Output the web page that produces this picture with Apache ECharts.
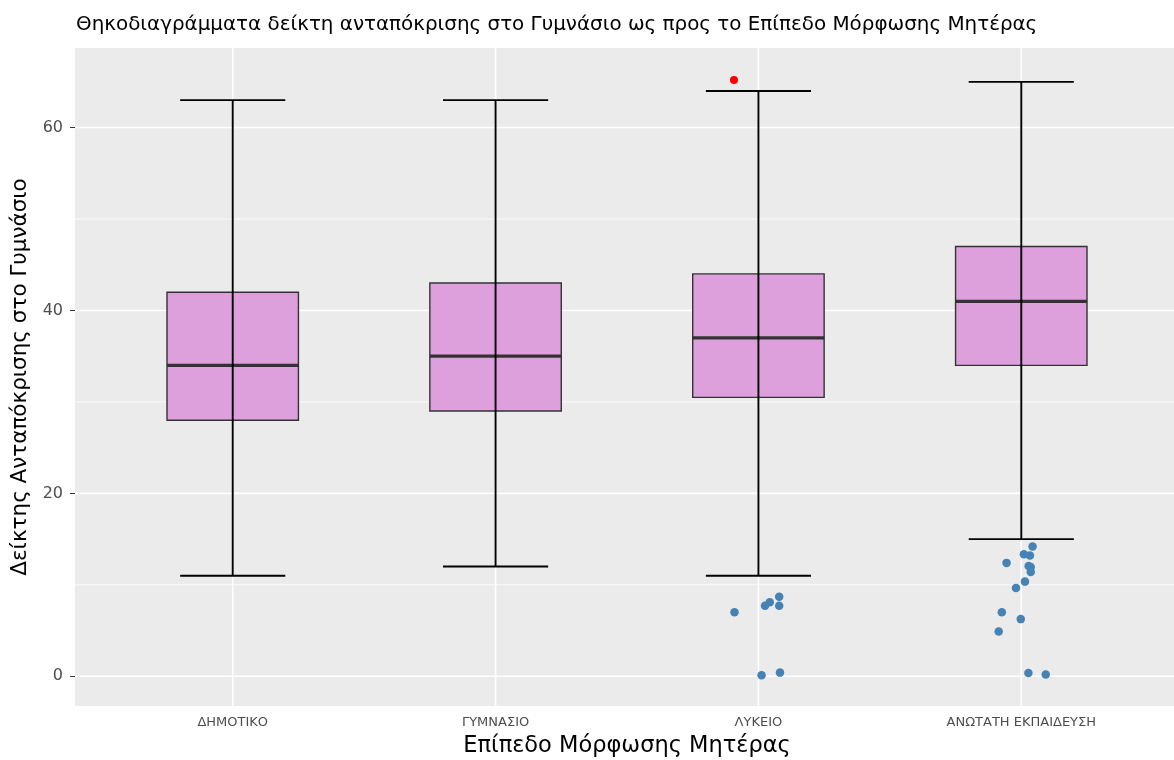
<!DOCTYPE html>
<html>
<head>
<meta charset="utf-8">
<script src="https://cdn.jsdelivr.net/npm/echarts@6/dist/echarts.min.js"></script>
<style>
  html, body { margin: 0; padding: 0; background: #fff; }
  #main { width: 1174px; height: 760px; }
</style>
</head>
<body>
<div id="main"></div>
<script>
var dom = document.getElementById('main');
var myChart = echarts.init(dom, null, { renderer: 'canvas' });

var categories = ['ΔΗΜΟΤΙΚΟ', 'ΓΥΜΝΑΣΙΟ', 'ΛΥΚΕΙΟ', 'ΑΝΩΤΑΤΗ ΕΚΠΑΙΔΕΥΣΗ'];
var whiskerLow = [11, 12, 11, 15];
var q1 = [28, 29, 30.5, 34];
var median = [34, 35, 37, 41];
var q3 = [42, 43, 44, 47];
var whiskerHigh = [63, 63, 64, 65];

// [category index, horizontal jitter, value]
var jitterPoints = [
    [2, -0.091, 7.0], [2, 0.025, 7.7], [2, 0.043, 8.1], [2, 0.079, 8.7],
    [2, 0.079, 7.7], [2, 0.012, 0.1], [2, 0.082, 0.4],
    [3, 0.043, 14.2], [3, 0.010, 13.35], [3, 0.033, 13.2], [3, -0.056, 12.4],
    [3, 0.028, 12.05], [3, 0.036, 11.95], [3, 0.036, 11.4], [3, 0.014, 10.35],
    [3, -0.020, 9.65], [3, -0.074, 7.0], [3, -0.002, 6.25], [3, -0.086, 4.9],
    [3, 0.027, 0.35], [3, 0.093, 0.2]
];
var outlierPoints = [[2, -0.093, 65.2]];

var yMajor = [0, 20, 40, 60];
var yMinor = [10, 30, 50];

var fontFamily = 'DejaVu Sans, Liberation Sans, sans-serif';

var boxData = categories.map(function (c, i) {
    return [i + 1, q1[i], median[i], q3[i]];
});
var whiskerData = categories.map(function (c, i) {
    return [i + 1, whiskerLow[i], whiskerHigh[i]];
});
var gridData = [];
yMinor.forEach(function (v) { gridData.push([1, v, 0.8, 0]); });
yMajor.forEach(function (v) { gridData.push([1, v, 1.6, 0]); });
categories.forEach(function (c, i) { gridData.push([i + 1, 0, 1.6, 1]); });

function renderGrid(params, api) {
    var cs = params.coordSys;
    var w = api.value(2);
    if (api.value(3) === 1) {
        var x = api.coord([api.value(0), 0])[0];
        return {
            type: 'line',
            shape: { x1: x, y1: cs.y, x2: x, y2: cs.y + cs.height },
            style: { stroke: '#ffffff', lineWidth: w }
        };
    }
    var y = api.coord([1, api.value(1)])[1];
    return {
        type: 'line',
        shape: { x1: cs.x, y1: y, x2: cs.x + cs.width, y2: y },
        style: { stroke: '#ffffff', lineWidth: w }
    };
}

function renderBox(params, api) {
    var x = api.value(0);
    var half = 0.25;
    var tl = api.coord([x - half, api.value(3)]);
    var br = api.coord([x + half, api.value(1)]);
    var ml = api.coord([x - half, api.value(2)]);
    var mr = api.coord([x + half, api.value(2)]);
    return {
        type: 'group',
        children: [
            {
                type: 'rect',
                shape: { x: tl[0], y: tl[1], width: br[0] - tl[0], height: br[1] - tl[1] },
                style: { fill: '#DDA0DD', stroke: '#333333', lineWidth: 1.4 }
            },
            {
                type: 'line',
                shape: { x1: ml[0], y1: ml[1], x2: mr[0], y2: mr[1] },
                style: { stroke: '#333333', lineWidth: 3.2 }
            }
        ]
    };
}

function renderWhisker(params, api) {
    var x = api.value(0);
    var cap = 0.2;
    var lo = api.coord([x, api.value(1)]);
    var hi = api.coord([x, api.value(2)]);
    var l1 = api.coord([x - cap, api.value(1)]);
    var r1 = api.coord([x + cap, api.value(1)]);
    var l2 = api.coord([x - cap, api.value(2)]);
    var r2 = api.coord([x + cap, api.value(2)]);
    var st = { stroke: '#000000', lineWidth: 1.9 };
    return {
        type: 'group',
        children: [
            { type: 'line', shape: { x1: lo[0], y1: lo[1], x2: hi[0], y2: hi[1] }, style: st },
            { type: 'line', shape: { x1: l1[0], y1: l1[1], x2: r1[0], y2: r1[1] }, style: st },
            { type: 'line', shape: { x1: l2[0], y1: l2[1], x2: r2[0], y2: r2[1] }, style: st }
        ]
    };
}

var option = {
    animation: false,
    title: {
        text: 'Θηκοδιαγράμματα δείκτη ανταπόκρισης στο Γυμνάσιο ως προς το Επίπεδο Μόρφωσης Μητέρας',
        left: 71,
        top: 10,
        textStyle: { fontFamily: fontFamily, fontSize: 19.9, fontWeight: 'normal', color: '#000000' }
    },
    grid: {
        left: 75,
        top: 48,
        width: 1104,
        bottom: 54,
        outerBoundsMode: 'none',
        containLabel: false,
        show: true,
        backgroundColor: '#EBEBEB',
        borderWidth: 0
    },
    xAxis: {
        type: 'value',
        min: 0.4,
        max: 4.6,
        name: 'Επίπεδο Μόρφωσης Μητέρας',
        nameLocation: 'middle',
        nameGap: 29,
        nameTextStyle: { fontFamily: fontFamily, fontSize: 22.5, color: '#000000' },
        axisLine: { show: false },
        splitLine: { show: false },
        axisTick: { show: true, length: 5, customValues: [1, 2, 3, 4], lineStyle: { color: '#333333', width: 1 } },
        axisLabel: {
            customValues: [1, 2, 3, 4],
            margin: 10,
            fontFamily: fontFamily,
            fontSize: 13,
            color: '#4D4D4D',
            formatter: function (v) { return categories[Math.round(v) - 1] || ''; }
        }
    },
    yAxis: {
        type: 'value',
        min: -3.25,
        max: 68.7,
        name: 'Δείκτης Ανταπόκρισης στο Γυμνάσιο',
        nameLocation: 'middle',
        nameRotate: 90,
        nameGap: 44,
        nameTextStyle: { fontFamily: fontFamily, fontSize: 21.5, color: '#000000' },
        axisLine: { show: false },
        splitLine: { show: false },
        axisTick: { show: true, length: 5, customValues: yMajor, lineStyle: { color: '#333333', width: 1 } },
        axisLabel: {
            customValues: yMajor,
            margin: 12,
            fontFamily: fontFamily,
            fontSize: 16,
            color: '#4D4D4D'
        }
    },
    series: [
        {
            type: 'custom',
            name: 'grid',
            silent: true,
            z: 1,
            renderItem: renderGrid,
            encode: { x: 0, y: 1 },
            data: gridData
        },
        {
            type: 'custom',
            name: 'box',
            z: 2,
            renderItem: renderBox,
            encode: { x: 0, y: [1, 2, 3] },
            data: boxData
        },
        {
            type: 'custom',
            name: 'whisker',
            z: 3,
            renderItem: renderWhisker,
            encode: { x: 0, y: [1, 2] },
            data: whiskerData
        },
        {
            type: 'scatter',
            name: 'outliers',
            z: 4,
            symbolSize: 8,
            itemStyle: { color: '#FF0000', opacity: 1 },
            data: outlierPoints.map(function (p) { return [p[0] + 1 + p[1], p[2]]; })
        },
        {
            type: 'scatter',
            name: 'jitter',
            z: 5,
            symbolSize: 8.5,
            itemStyle: { color: '#4682B4', opacity: 1 },
            data: jitterPoints.map(function (p) { return [p[0] + 1 + p[1], p[2]]; })
        }
    ]
};

myChart.setOption(option);
window.addEventListener('resize', myChart.resize);
</script>
</body>
</html>
